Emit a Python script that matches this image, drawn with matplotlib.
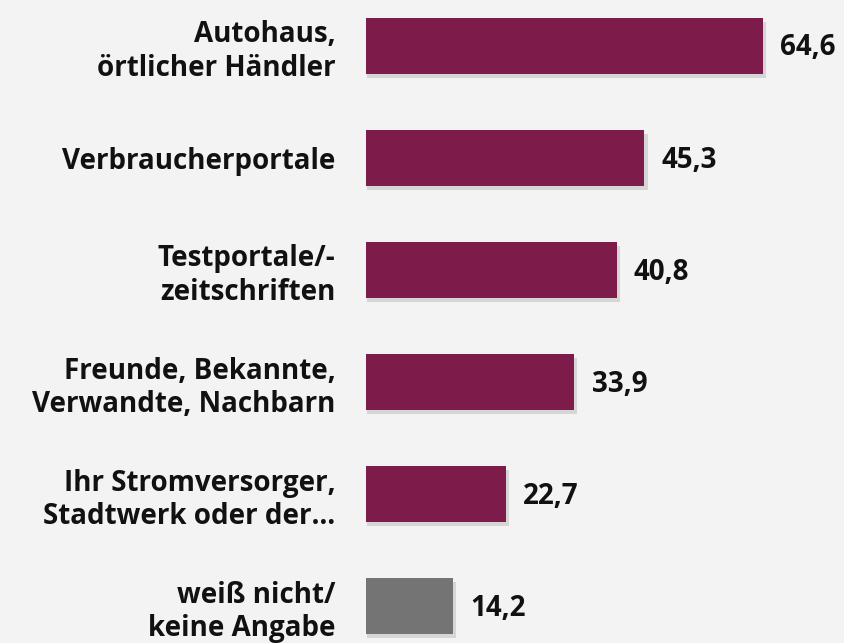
import matplotlib.pyplot as plt

categories = [
    "Autohaus,\nörtlicher Händler",
    "Verbraucherportale",
    "Testportale/-\nzeitschriften",
    "Freunde, Bekannte,\nVerwandte, Nachbarn",
    "Ihr Stromversorger,\nStadtwerk oder der…",
    "weiß nicht/\nkeine Angabe",
]
values = [64.6, 45.3, 40.8, 33.9, 22.7, 14.2]
colors = ["#7d1c4a"] * 5 + ["#747474"]

plt.rcParams['font.family'] = ['Open Sans', 'DejaVu Sans']

fig = plt.figure(figsize=(8.44, 6.43), dpi=100, facecolor="#f3f3f3")
ax = fig.add_axes([366 / 844, 1 - 640 / 643, 461 / 844, 628 / 643])
ax.set_facecolor("#f3f3f3")

pos = list(range(len(values)))
# soft shadow under the bars
ax.barh([p + 0.035 for p in pos], [v + 0.3 for v in values], height=0.5,
        left=0.2, color="#a0a0a0", alpha=0.35, zorder=1)
ax.barh(pos, values, height=0.5, color=colors, zorder=2)

for p, v in zip(pos, values):
    ax.text(v + 2.8, p + 0.02, f"{v:.1f}".replace(".", ","), va="center",
            ha="left", fontsize=20, fontweight="bold", color="#111111")

ax.set_xlim(0, 75)
ax.set_ylim(5.3, -0.3)
ax.set_yticks(pos)
ax.set_yticklabels(categories, fontsize=20, fontweight="bold",
                   color="#111111", multialignment="right", linespacing=1.2)
ax.tick_params(axis="y", length=0, pad=22)
ax.set_xticks([])
for s in ax.spines.values():
    s.set_visible(False)

fig.savefig("out.png", dpi=100, facecolor=fig.get_facecolor())
